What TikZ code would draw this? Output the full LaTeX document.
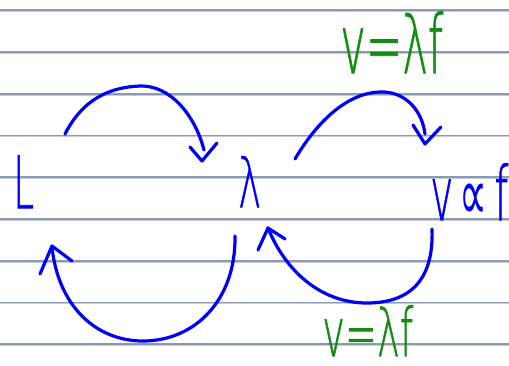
\documentclass[tikz,border=0pt]{standalone}
\usepackage{fontspec}
\setmainfont{DejaVu Sans ExtraLight}[FakeBold=1]
\newfontfamily\symfont{DejaVu Sans}
\usepackage{graphicx}
\definecolor{inkblue}{RGB}{0,0,250}
\definecolor{inkgreen}{RGB}{20,140,20}
\definecolor{ruledark}{RGB}{138,154,176}
\definecolor{rulelight}{RGB}{196,204,214}
\tikzset{
  rule/.style={ruledark, line width=1.4pt},
  rulesoft/.style={rulelight, line width=1pt},
  ink/.style={inkblue, line width=3.2pt, line cap=round, line join=round},
  lbl/.style={inner sep=0pt, anchor=north west},
}
\begin{document}
\begin{tikzpicture}[x=1pt,y=-1pt]
\useasboundingbox[fill=white] (0,0) rectangle (509,365);
% ruled lines
\foreach \yy in {10,52,94,135.5,177,219,261,302.5,344}{
  \draw[rulesoft] (0,\yy+1.3) -- (509,\yy+1.3);
  \draw[rule] (0,\yy) -- (509,\yy);
}
% labels
\node[lbl, text=inkblue] (L) at (13,155) {\resizebox*{21pt}{53pt}{L}};
\node[lbl, text=inkblue] (lam) at (238,156) {\resizebox*{23pt}{51pt}{λ}};
\node[lbl, text=inkblue] (vf) at (430,163) {\resizebox*{78pt}{57pt}{v\,{\symfont ∝}\,f}};
\node[lbl, text=inkgreen] (eqtop) at (340,11) {\resizebox*{103pt}{62pt}{v=λf}};
\node[lbl, text=inkgreen] (eqbot) at (322,305) {\resizebox*{91pt}{51pt}{v=λf}};
% arc endpoints
\coordinate (a1s) at (65,134);   \coordinate (a1p) at (140,86);  \coordinate (a1e) at (204,150);
\coordinate (h1a) at (190,147);  \coordinate (h1t) at (202,161); \coordinate (h1b) at (217,143);
\coordinate (a2s) at (295,159);  \coordinate (a2p) at (380,92);  \coordinate (a2e) at (425,134);
\coordinate (h2a) at (413,125);  \coordinate (h2t) at (425,144); \coordinate (h2b) at (441,127);
\coordinate (a3s) at (235,236);  \coordinate (a3p) at (143,341); \coordinate (a3e) at (52,247);
\coordinate (h3a) at (40,274);   \coordinate (h3t) at (52,246);  \coordinate (h3b) at (72,261);
\coordinate (a4s) at (432,229);  \coordinate (a4p) at (367,303); \coordinate (a4e) at (268,228);
\coordinate (h4a) at (258,250);  \coordinate (h4t) at (268,228); \coordinate (h4b) at (285,239);
% arcs
\draw[ink] (a1s) .. controls (85,95) and (115,87) .. (a1p) .. controls (170,85) and (195,115) .. (a1e);
\draw[ink] (h1a) -- (h1t) -- (h1b);
\draw[ink] (a2s) .. controls (315,125) and (345,93) .. (a2p) .. controls (405,91) and (422,110) .. (a2e);
\draw[ink] (h2a) -- (h2t) -- (h2b);
\draw[ink] (a3s) .. controls (236,300) and (195,341) .. (a3p) .. controls (95,341) and (58,305) .. (a3e);
\draw[ink] (h3a) -- (h3t) -- (h3b);
\draw[ink] (a4s) .. controls (434,280) and (410,303) .. (a4p) .. controls (320,303) and (285,270) .. (a4e);
\draw[ink] (h4a) -- (h4t) -- (h4b);
\end{tikzpicture}
\end{document}
